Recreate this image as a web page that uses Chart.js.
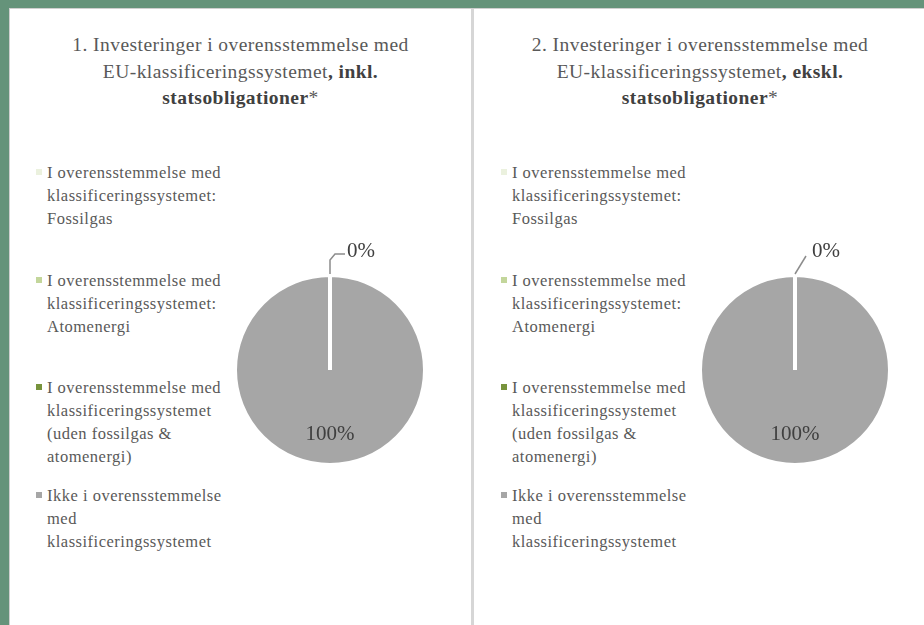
<!DOCTYPE html>
<html>
<head>
<meta charset="utf-8">
<script src="https://cdn.jsdelivr.net/npm/chart.js@4"></script>
<style>
  body { margin: 0; width: 924px; height: 625px; overflow: hidden; background: #65937a;
         font-family: "Liberation Serif", "Times New Roman", serif; }
  #sheet { position: absolute; left: 9px; top: 8px; width: 914px; height: 616px; background: #fff;
           border-left: 1px solid #cfcfcf; border-top: 1px solid #cfcfcf; }
  .panel { position: absolute; top: 0; height: 616px; }
  #p1 { left: 0; width: 461px; }
  #p2 { left: 465px; width: 450px; }
  #divider { position: absolute; left: 461px; top: 0; width: 3px; height: 616px; background: #d6d6d6; }
  .title { position: absolute; left: 0; right: 0; top: 23px; text-align: center; color: #595959;
           font-size: 19.5px; line-height: 26.5px; letter-spacing: 0.45px; }
  .title b { color: #404040; }
  .legend { position: absolute; left: 26px; top: 152px; color: #595959; font-size: 16.5px; line-height: 23px; letter-spacing: 0.5px; }
  .item { position: relative; height: 107.5px; padding-left: 11px; }
  .item i { position: absolute; left: 0; top: 8px; width: 6px; height: 6px; }
  .box { position: absolute; left: 195px; top: 231px; width: 250px; height: 260px; }
</style>
</head>
<body>
<div id="sheet">
  <div class="panel" id="p1">
    <div class="title">1. Investeringer i overensstemmelse med<br>EU-klassificeringssystemet<b>, inkl.<br>statsobligationer</b>*</div>
    <div class="legend" id="lg1"></div>
    <div class="box"><canvas id="c1"></canvas></div>
  </div>
  <div id="divider"></div>
  <div class="panel" id="p2">
    <div class="title">2. Investeringer i overensstemmelse med<br>EU-klassificeringssystemet<b>, ekskl.<br>statsobligationer</b>*</div>
    <div class="legend" id="lg2"></div>
    <div class="box"><canvas id="c2"></canvas></div>
  </div>
</div>
<script>
// kategorier (legend-linjer som i originalen)
const categories = [
  ['I overensstemmelse med', 'klassificeringssystemet:', 'Fossilgas'],
  ['I overensstemmelse med', 'klassificeringssystemet:', 'Atomenergi'],
  ['I overensstemmelse med', 'klassificeringssystemet', '(uden fossilgas &', 'atomenergi)'],
  ['Ikke i overensstemmelse', 'med', 'klassificeringssystemet']
];
const colors = ['#ebf1de', '#c3d69b', '#77933c', '#a6a6a6'];

// andele i procent
const inklValues = [0, 0, 0, 100];
const ekslValues = [0, 0, 0, 100];

// hvilke skiver får en etiket
const labelIndex = [0, 3];

function buildLegend(id) {
  const el = document.getElementById(id);
  categories.forEach((lines, i) => {
    const d = document.createElement('div');
    d.className = 'item';
    d.innerHTML = '<i style="background:' + colors[i] + '"></i>' + lines.join('<br>');
    el.appendChild(d);
  });
}
buildLegend('lg1');
buildLegend('lg2');

// tegner procent-etiketter og hjælpelinje for 0%
const pieLabels = {
  id: 'pieLabels',
  afterDatasetsDraw(chart, args, opts) {
    const ctx = chart.ctx;
    const meta = chart.getDatasetMeta(0);
    const values = chart.data.datasets[0].data;
    ctx.save();
    ctx.font = '21px "Liberation Serif", serif';
    ctx.fillStyle = '#404040';
    ctx.textBaseline = 'middle';
    labelIndex.forEach(i => {
      const arc = meta.data[i];
      const p = arc.getProps(['x', 'y', 'startAngle', 'endAngle', 'outerRadius'], true);
      const mid = (p.startAngle + p.endAngle) / 2;
      const txt = values[i] + '%';
      if (values[i] > 0) {
        ctx.textAlign = 'center';
        ctx.fillText(txt, p.x + Math.cos(mid) * p.outerRadius * 0.68, p.y + Math.sin(mid) * p.outerRadius * 0.68);
      } else {
        const ex = p.x + Math.cos(mid) * p.outerRadius;
        const ey = p.y + Math.sin(mid) * p.outerRadius;
        ctx.strokeStyle = '#8c8c8c';
        ctx.lineWidth = 1.5;
        ctx.beginPath();
        ctx.moveTo(ex, ey - 1);
        if (opts.leader === 'elbow') {
          ctx.lineTo(ex, ey - 15);
          ctx.lineTo(ex + 5, ey - 21);
          ctx.lineTo(ex + 15, ey - 21);
        } else {
          ctx.lineTo(ex + 11, ey - 19);
        }
        ctx.stroke();
        ctx.textAlign = 'left';
        ctx.fillText(txt, ex + 17, ey - 24);
      }
    });
    ctx.restore();
  }
};

function makePie(id, values, leader) {
  new Chart(document.getElementById(id), {
    type: 'pie',
    data: {
      labels: categories.map(l => l.join(' ')),
      datasets: [{
        data: values,
        backgroundColor: colors,
        borderColor: '#ffffff',
        borderWidth: 4
      }]
    },
    options: {
      responsive: true,
      maintainAspectRatio: false,
      animation: false,
      layout: { padding: { left: 28, right: 28, top: 33, bottom: 33 } },
      plugins: {
        legend: { display: false },
        tooltip: { enabled: false },
        pieLabels: { leader: leader }
      }
    },
    plugins: [pieLabels]
  });
}

makePie('c1', inklValues, 'elbow');
makePie('c2', ekslValues, 'straight');
</script>
</body>
</html>
